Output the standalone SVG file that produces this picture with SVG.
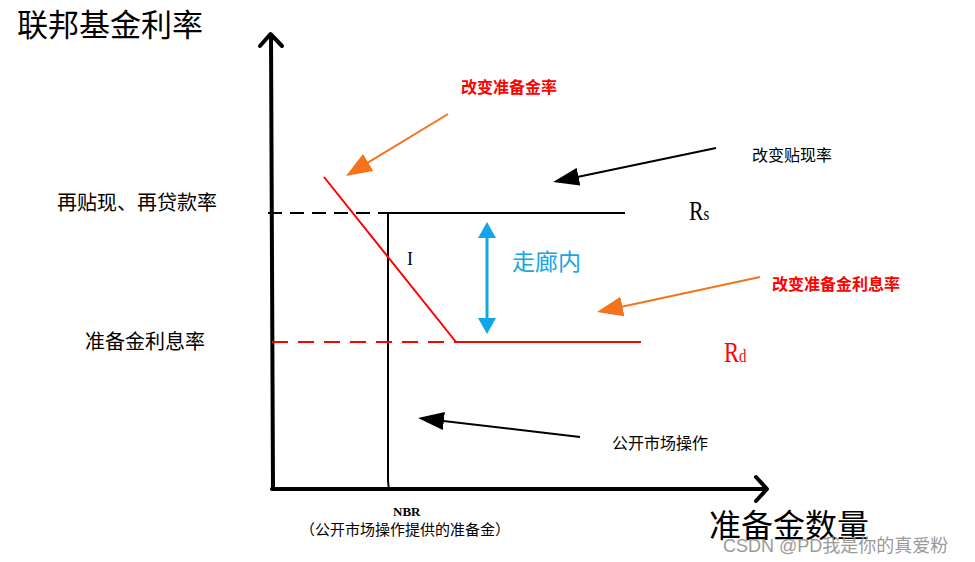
<svg xmlns="http://www.w3.org/2000/svg" width="975" height="562" viewBox="0 0 975 562">
<defs>
<style>
.cjk{font-family:"Noto Sans CJK SC","Liberation Serif",serif;}
.ser{font-family:"Liberation Serif","Noto Sans CJK SC",serif;}
.red{fill:#ff0000;}
.blk{fill:#000;}
</style>
<marker id="hb" viewBox="0 0 26 18" markerUnits="userSpaceOnUse" markerWidth="26" markerHeight="18" refX="22" refY="9" orient="auto"><path d="M0,0 L26,9 L0,18 z" fill="#000"/></marker>
<marker id="ho" viewBox="0 0 26 20" markerUnits="userSpaceOnUse" markerWidth="26" markerHeight="20" refX="22" refY="10" orient="auto"><path d="M0,0 L26,10 L0,20 z" fill="#f5731c"/></marker>
<marker id="hc" viewBox="0 0 16 18" markerUnits="userSpaceOnUse" markerWidth="16" markerHeight="18" refX="13" refY="9" orient="auto-start-reverse"><path d="M0,0 L16,9 L0,18 z" fill="#14a5e6"/></marker>
</defs>
<rect width="975" height="562" fill="#fff"/>

<g id="axes" fill="none" stroke="#000" stroke-width="4" stroke-linecap="round" stroke-linejoin="round">
<path d="M273,489 L271,35"/>
<path d="M260,46 L270.5,34 L282,46"/>
<path d="M272,489 L766,489"/>
<path d="M756,477 L767,489 L756,501"/>
</g>

<g id="curves" fill="none">
<path d="M268,213 L388,213" stroke="#000" stroke-width="2" stroke-dasharray="14,8"/>
<path d="M388,213 L625,213" stroke="#000" stroke-width="2"/>
<path d="M388,213 L388,478 Q388,488 390,490" stroke="#000" stroke-width="2"/>
<path d="M272,342 L456,342" stroke="#ff0000" stroke-width="2" stroke-dasharray="16,10"/>
<path d="M456,342 L641,342" stroke="#ff0000" stroke-width="2"/>
<path d="M324,177 L456,342" stroke="#ff0000" stroke-width="2"/>
</g>

<g id="connectors" fill="none" stroke-width="2">
<path d="M448,114 L349.4,173.9" stroke="#f5731c" marker-end="url(#ho)"/>
<path d="M716,148 L557,181.2" stroke="#000" marker-end="url(#hb)"/>
<path d="M760,277 L600.9,311.2" stroke="#f5731c" marker-end="url(#ho)"/>
<path d="M580,437 L422,418.5" stroke="#000" marker-end="url(#hb)"/>
<path d="M487,225 L487,331" stroke="#14a5e6" stroke-width="3" marker-start="url(#hc)" marker-end="url(#hc)"/>
</g>

<g id="axis-labels">
<text class="cjk blk" x="17" y="36" font-size="31">联邦基金利率</text>
<text class="cjk blk" x="709" y="537" font-size="32">准备金数量</text>
<text class="cjk blk" x="57" y="210" font-size="20">再贴现、再贷款率</text>
<text class="cjk blk" x="85" y="349" font-size="20">准备金利息率</text>
</g>

<g id="label-rs"><text class="ser blk" transform="translate(689,220) scale(0.78,1)" x="0" y="0" font-size="28">R<tspan font-size="19">s</tspan></text></g>
<g id="label-rd"><text class="ser red" transform="translate(724,362) scale(0.78,1)" x="0" y="0" font-size="29">R<tspan font-size="19">d</tspan></text></g>
<g id="label-i"><text class="ser blk" x="407" y="265" font-size="18">I</text></g>
<g id="label-corridor"><text class="cjk" x="512" y="270" font-size="23" fill="#14a5e6">走廊内</text></g>
<g id="label-rrr"><text class="cjk red" x="461" y="93" font-size="16" font-weight="bold">改变准备金率</text></g>
<g id="label-discount"><text class="cjk blk" x="752" y="161" font-size="16">改变贴现率</text></g>
<g id="label-ior"><text class="cjk red" x="772" y="290" font-size="16" font-weight="bold">改变准备金利息率</text></g>
<g id="label-omo"><text class="cjk blk" x="612" y="449" font-size="16">公开市场操作</text></g>
<g id="label-nbr">
<text class="ser blk" x="393" y="516" font-size="13" font-weight="bold">NBR</text>
<text class="cjk blk" x="300" y="535" font-size="15">（公开市场操作提供的准备金）</text>
</g>
<text x="723" y="552" font-size="18" fill="#9a9a9a" style="font-family:'Liberation Sans','Noto Sans CJK SC',sans-serif">CSDN @PD我是你的真爱粉</text>
</svg>
